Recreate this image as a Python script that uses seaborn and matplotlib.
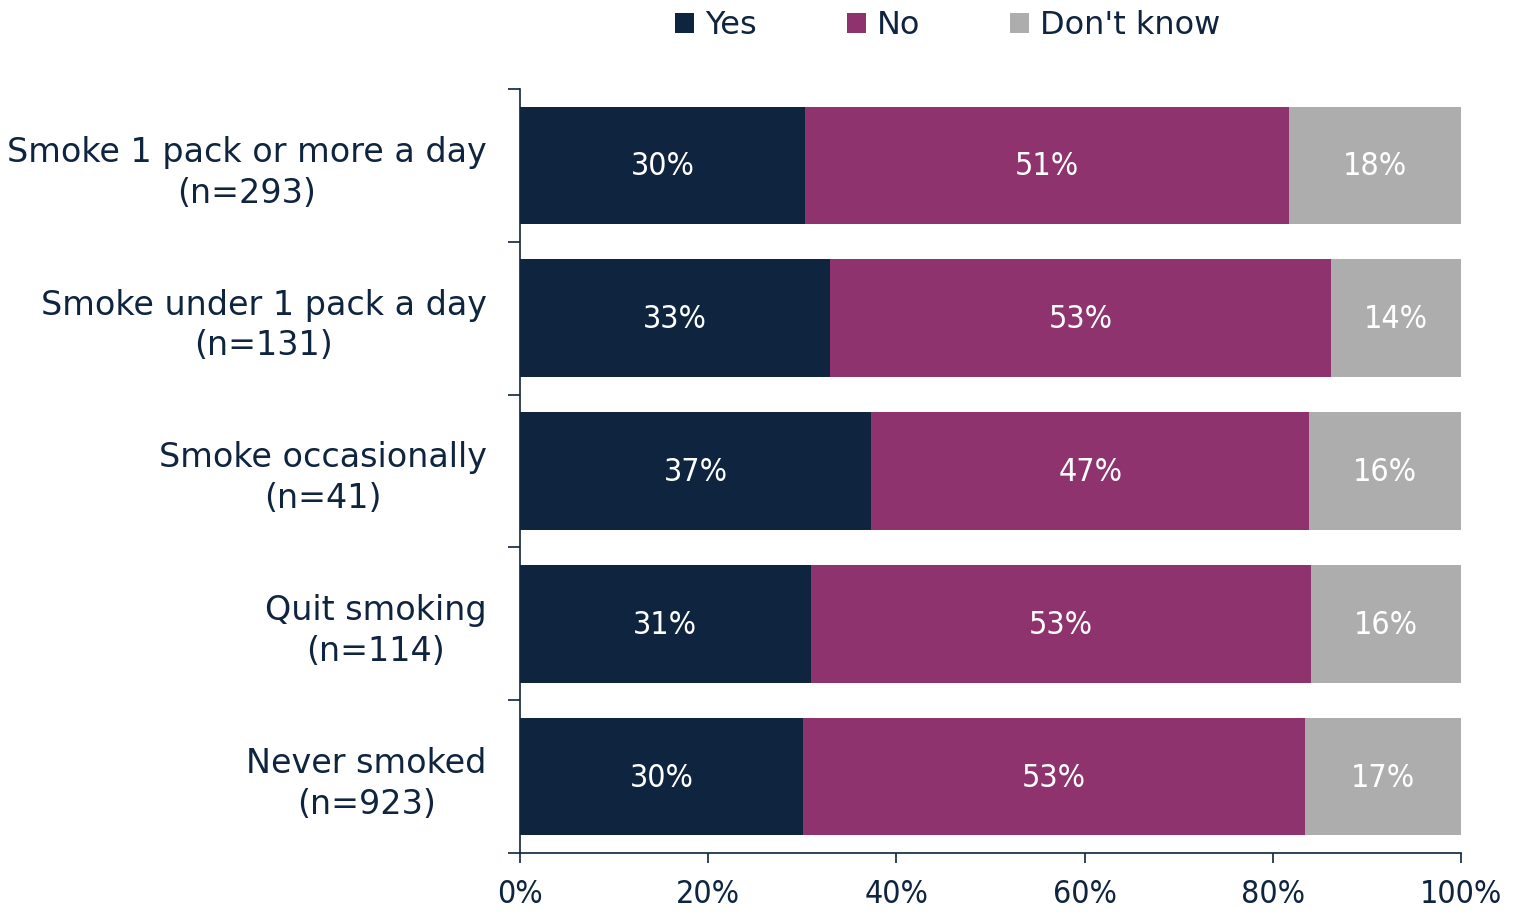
import numpy as np
import pandas as pd
import matplotlib
matplotlib.use("Agg")
import matplotlib.pyplot as plt
from matplotlib.patches import Patch
from matplotlib.ticker import FixedLocator, PercentFormatter
import seaborn as sns

# Datos (porcentaje por grupo)
groups = [
    "Smoke 1 pack or more a day\n(n=293)",
    "Smoke under 1 pack a day\n(n=131)",
    "Smoke occasionally\n(n=41)",
    "Quit smoking\n(n=114)",
    "Never smoked\n(n=923)",
]
yes = [30.3, 33.0, 37.3, 30.9, 30.1]
no = [51.4, 53.2, 46.6, 53.2, 53.3]
dont_know = [18.3, 13.8, 16.1, 15.9, 16.6]

series_names = ["Yes", "No", "Don't know"]
colors = ["#0F243E", "#8E336E", "#ADADAD"]
text_color = "#0F243E"

df = pd.DataFrame({"group": groups, "Yes": yes, "No": no, "Don't know": dont_know})
# acumulados para apilar
df["cum_yes"] = df["Yes"]
df["cum_no"] = df["Yes"] + df["No"]
df["cum_dk"] = df["Yes"] + df["No"] + df["Don't know"]

sns.set_style("white")
plt.rcParams["font.family"] = ["DejaVu Sans"]
plt.rcParams["font.stretch"] = "condensed"

fig = plt.figure(figsize=(15.19, 9.16), dpi=100)
ax = fig.add_axes([0.3423, 0.0688, 0.6195, 0.8341])

# de atras hacia adelante
for col, color in zip(["cum_dk", "cum_no", "cum_yes"], colors[::-1]):
    sns.barplot(data=df, x=col, y="group", color=color, width=0.77,
                saturation=1, ax=ax, orient="h", edgecolor="none")

# etiquetas de porcentaje dentro de cada segmento
for i, row in df.iterrows():
    starts = [0, row["cum_yes"], row["cum_no"]]
    for s, name in zip(starts, series_names):
        v = row[name]
        ax.text(s + v / 2, i + 0.01, f"{round(v)}%", ha="center", va="center",
                color="white", fontsize=23)

ax.set_xlim(0, 100)
ax.set_ylim(4.5, -0.5)
ax.set_xlabel("")
ax.set_ylabel("")
ax.xaxis.set_major_locator(FixedLocator([0, 20, 40, 60, 80, 100]))
ax.xaxis.set_major_formatter(PercentFormatter(decimals=0))
ax.tick_params(axis="x", direction="out", length=7, width=1.2, color=text_color,
               labelsize=23, labelcolor=text_color, pad=12, bottom=True)
ax.tick_params(axis="y", which="major", length=0, labelsize=24,
               labelcolor=text_color, pad=24)
ax.yaxis.set_minor_locator(FixedLocator(np.arange(-0.5, 5, 1)))
ax.tick_params(axis="y", which="minor", direction="out", length=9, width=1.2,
               color=text_color, left=True)
for lbl in ax.get_yticklabels():
    lbl.set_multialignment("center")
    lbl.set_linespacing(1.3)
    lbl.set_fontstretch("normal")

sns.despine(ax=ax, top=True, right=True)
for side in ["left", "bottom"]:
    ax.spines[side].set_color(text_color)
    ax.spines[side].set_linewidth(1.2)

handles = [Patch(facecolor=c, edgecolor="none", label=n) for c, n in zip(colors, series_names)]
leg = fig.legend(handles=handles, loc="center", bbox_to_anchor=(0.624, 0.972),
                 ncol=3, frameon=False, fontsize=23, handlelength=0.6, handleheight=0.6,
                 handletextpad=0.35, columnspacing=2.8)
for t in leg.get_texts():
    t.set_color(text_color)
    t.set_fontstretch("normal")

fig.savefig("out.png", dpi=100)
